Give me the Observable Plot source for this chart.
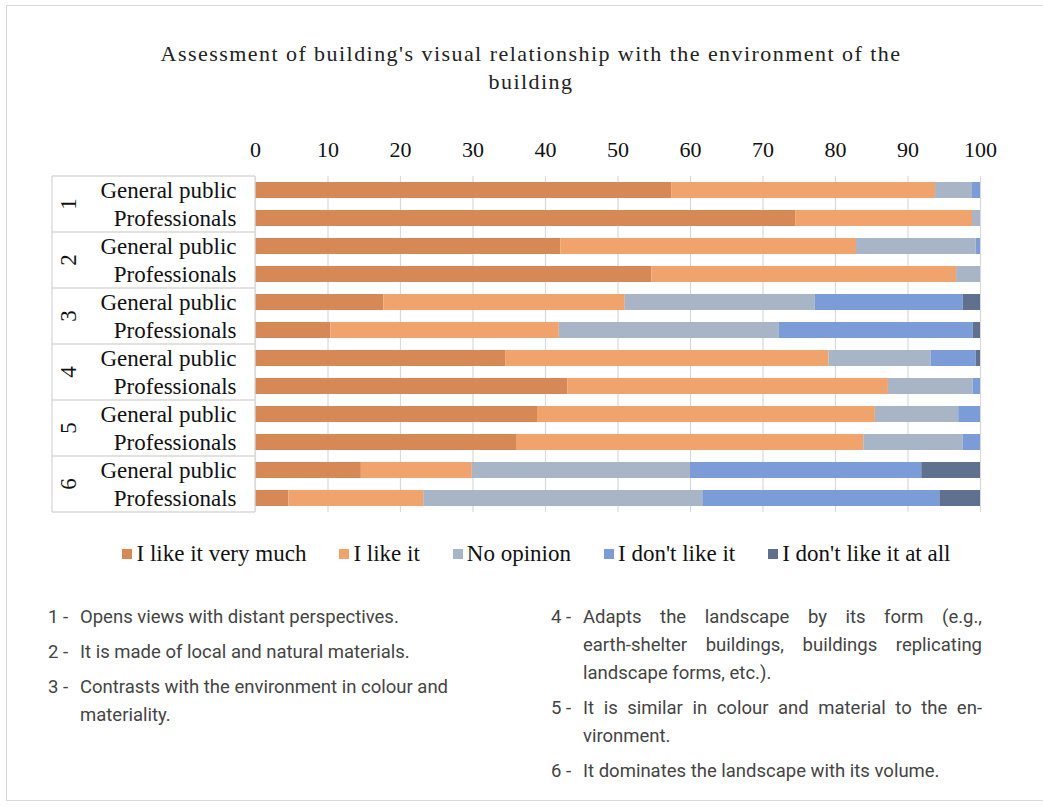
<!DOCTYPE html>
<html><head><meta charset="utf-8">
<script src="https://cdn.jsdelivr.net/npm/d3@7"></script>
<script src="https://cdn.jsdelivr.net/npm/@observablehq/plot@0.6"></script>
<style>
html,body{margin:0;padding:0;background:#fff;}
#page{position:relative;width:1043px;height:807px;overflow:hidden;}
#frame{position:absolute;left:6px;top:5px;width:1040px;height:796px;border:1px solid #d9d9d9;box-sizing:border-box;}
#title{position:absolute;left:0;width:1062px;top:40px;text-align:center;font-family:"Liberation Serif",serif;font-size:22px;letter-spacing:1.45px;line-height:28px;color:#222;}
#chart{position:absolute;left:0;top:120px;}
#legend{position:absolute;left:0;width:1106px;top:541px;display:flex;justify-content:center;font-family:"Liberation Serif",serif;font-size:23px;color:#111;}
#legend .it{display:flex;align-items:center;margin-right:33px;}
#legend .sw{width:10px;height:10px;margin-right:4px;}
.notes{position:absolute;top:603px;font-family:Roboto,"Noto Sans",sans-serif;font-size:18.5px;color:#444;line-height:28px;}
.notes p{margin:0 0 7px 0;padding-left:32px;text-indent:-32px;}
.notes .num{display:inline-block;width:32px;text-indent:0;white-space:pre;}
#notesL{left:48px;width:440px;}
#notesR{left:551px;width:431px;text-align:justify;}
</style></head>
<body><div id="page"><div id="frame"></div>
<div id="title">Assessment of building's visual relationship with the environment of the<br>building</div>
<div id="chart"></div>
<div id="legend"></div>
<div class="notes" id="notesL"></div>
<div class="notes" id="notesR"></div>
</div>
<script>
const groups = ["1","2","3","4","5","6"];
const respondents = ["General public","Professionals"];
const answers = ["I like it very much","I like it","No opinion","I don't like it","I don't like it at all"];
const colors = ["#d68957","#f0a36c","#a8b5c7","#7b9cd6","#60708f"];
// percentages per row (group × respondent), in answer order
const veryMuch = [57.4,74.5, 42.1,54.7, 17.7,10.4, 34.5,43.1, 38.9,36.1, 14.6,4.6];
const likeIt   = [36.4,24.4, 40.8,42.0, 33.3,31.5, 44.6,44.2, 46.6,47.8, 15.3,18.6];
const noOpin   = [5.1,1.1,  16.5,3.3,  26.2,30.3, 14.1,11.7, 11.5,13.7, 30.1,38.5];
const dontLike = [1.1,0,    0.6,0,     20.4,26.8, 6.2,1.0,   3.0,2.4,   31.9,32.7];
const notAtAll = [0,0,      0,0,       2.4,1.0,   0.6,0,     0,0,       8.1,5.6];
const xTicks = [0,10,20,30,40,50,60,70,80,90,100];
const notesLeft = [["1 - ","Opens views with distant perspectives."],["2 - ","It is made of local and natural materials."],["3 - ","Contrasts with the environment in colour and materiality."]];
const notesRight = [["4 - ","Adapts the landscape by its form (e.g., earth\u2011shelter buildings, buildings replicating landscape forms, etc.)."],["5 - ","It is similar in colour and material to the en\u00ADvironment."],["6 - ","It dominates the landscape with its volume."]];

const series = [veryMuch, likeIt, noOpin, dontLike, notAtAll];
const rows = [];
groups.forEach((g,gi)=>respondents.forEach((r,ri)=>rows.push({g, r, key:g+"|"+r, i:gi*2+ri})));
const data = [];
rows.forEach(row=>series.forEach((s,si)=>data.push({key:row.key, answer:answers[si], order:si, value:s[row.i]})));

const plot = Plot.plot({
  width:1043, height:396,
  marginTop:56, marginBottom:4, marginLeft:255, marginRight:63,
  style:{fontFamily:"'Liberation Serif',serif", fontSize:"23px", color:"#111", background:"transparent"},
  x:{domain:[0,100], axis:null},
  y:{domain:rows.map(d=>d.key), paddingInner:0.43, paddingOuter:0.215, axis:null},
  color:{domain:answers, range:colors},
  marks:[
    Plot.gridX(xTicks,{stroke:"#d9d9d9", strokeOpacity:1, strokeWidth:1.2}),
    Plot.barX(data, Plot.stackX({x:"value", y:"key", fill:"answer", order:answers})),
    Plot.axisX(xTicks,{anchor:"top", label:null, tickSize:0, tickPadding:20, fontSize:22, tickFormat:d=>String(d)}),
    Plot.axisY({anchor:"left", label:null, tickSize:0, tickPadding:19, fontSize:23, tickFormat:k=>k.split("|")[1]})
  ]
});
document.getElementById("chart").appendChild(plot);

// group box and rotated group labels, positioned by the plot's y scale
const ys = plot.scale("y");
const step = ys.step, bw = ys.bandwidth;
const svg = d3.select(plot);
const g = svg.append("g").attr("stroke","#d9d9d9").attr("stroke-width",1.3).attr("fill","none");
const top0 = ys.apply(rows[0].key) - (step-bw)/2;
const bot0 = ys.apply(rows[rows.length-1].key) + bw + (step-bw)/2;
g.append("line").attr("x1",52).attr("x2",52).attr("y1",top0).attr("y2",bot0);
g.append("line").attr("x1",255).attr("x2",255).attr("y1",top0).attr("y2",bot0);
groups.forEach((gr,gi)=>{
  const y0 = ys.apply(gr+"|"+respondents[0]) - (step-bw)/2;
  g.append("line").attr("x1",52).attr("x2",255).attr("y1",y0).attr("y2",y0);
  const yc = y0 + step;
  svg.append("text").attr("transform",`translate(68,${yc}) rotate(-90)`).attr("text-anchor","middle").attr("dominant-baseline","central")
    .attr("font-family","'Liberation Serif',serif").attr("font-size",23).attr("fill","#111").text(gr);
});
g.append("line").attr("x1",52).attr("x2",255).attr("y1",bot0).attr("y2",bot0);

const leg = d3.select("#legend");
answers.forEach((a,i)=>{
  const it = leg.append("div").attr("class","it");
  it.append("div").attr("class","sw").style("background",colors[i]);
  it.append("span").text(a);
});
function addNote(sel, n){
  const p = d3.select(sel).append("p");
  p.append("span").attr("class","num").text(n[0]);
  p.append("span").text(n[1]);
}
notesLeft.forEach(n=>addNote("#notesL", n));
notesRight.forEach(n=>addNote("#notesR", n));
</script>
</body></html>
